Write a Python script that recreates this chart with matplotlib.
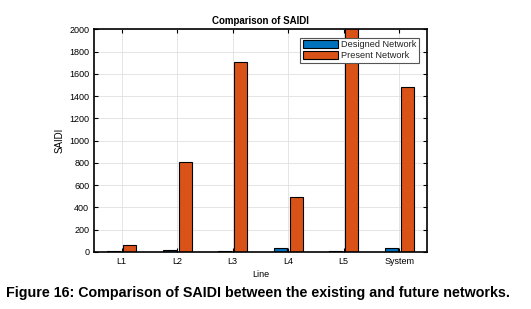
import matplotlib
matplotlib.use("Agg")
import matplotlib.pyplot as plt
import numpy as np

plt.rcParams['font.family'] = ['Liberation Sans', 'DejaVu Sans']

categories = ["L1", "L2", "L3", "L4", "L5", "System"]
designed = [4, 20, 8, 33, 6, 36]
present = [60, 805, 1705, 490, 2050, 1480]
yticks = list(range(0, 2001, 200))

fig = plt.figure(figsize=(5.31, 3.09), dpi=100)
ax = fig.add_axes([0.177, 0.185, 0.627, 0.72])

x = np.arange(1, len(categories) + 1)
w = 0.23
off = 0.145
ax.bar(x - off, designed, w, color="#0072BD", edgecolor="black", linewidth=0.8,
       label="Designed Network", zorder=3)
ax.bar(x + off, present, w, color="#D95319", edgecolor="black", linewidth=0.8,
       label="Present Network", zorder=3)

ax.set_xlim(0.5, 6.5)
ax.set_ylim(0, 2000)
ax.set_xticks(x)
ax.set_xticklabels(categories)
ax.set_yticks(yticks)
ax.tick_params(direction="in", labelsize=6.5, top=True, right=True, length=3, width=0.8)
ax.grid(True, color="#e0e0e0", linewidth=0.6, zorder=0)
ax.set_axisbelow(True)
for s in ax.spines.values():
    s.set_linewidth(1.2)
    s.set_zorder(4)

ax.set_title("Comparison of SAIDI", fontsize=7, fontweight="bold", pad=4)
ax.set_ylabel("SAIDI", fontsize=7, labelpad=3)
ax.set_xlabel("Line", fontsize=6.5, labelpad=3)

leg = ax.legend(loc="upper right", fontsize=6.6, frameon=True, fancybox=False,
                edgecolor="#555555", framealpha=1, borderpad=0.3, labelspacing=0.2,
                handlelength=3.8, handleheight=0.9, handletextpad=0.3,
                borderaxespad=0.9)
leg.get_frame().set_linewidth(0.8)
for t in leg.get_texts():
    t.set_color("#222222")

fig.text(0.486, 0.052, "Figure 16: Comparison of SAIDI between the existing and future networks.",
         ha="center", va="center", fontsize=10.3, fontweight="bold")

fig.savefig("out.png", dpi=100)
